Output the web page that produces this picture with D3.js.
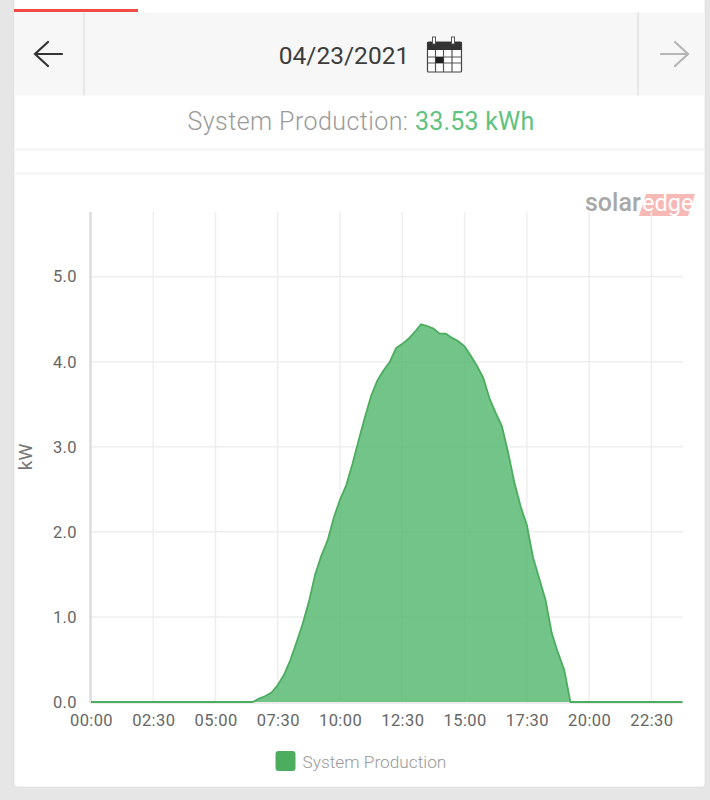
<!DOCTYPE html>
<html><head><meta charset="utf-8">
<script src="https://cdnjs.cloudflare.com/ajax/libs/d3/7.8.5/d3.min.js"></script>
<style>html,body{margin:0;padding:0;background:#e6e6e6;overflow:hidden}svg{display:block}text{font-family:Roboto,sans-serif}</style>
</head><body><svg id="c" width="710" height="800"></svg>
<script>
const title = "System Production: ";
const total = "33.53 kWh";
const dateLabel = "04/23/2021";
const yLabel = "kW";
const seriesName = "System Production";
const xTickLabels = ["00:00","02:30","05:00","07:30","10:00","12:30","15:00","17:30","20:00","22:30"];
const xTickHours = [0,2.5,5,7.5,10,12.5,15,17.5,20,22.5];
const yTicks = [0,1,2,3,4,5];
// 15-minute samples, 06:30 to 19:15
const startHour = 6.5;
const production = [0,0.04,0.07,0.11,0.2,0.32,0.49,0.7,0.92,1.18,1.5,1.72,1.9,2.17,2.38,2.55,2.8,3.08,3.35,3.6,3.78,3.9,4.0,4.16,4.21,4.27,4.35,4.44,4.42,4.39,4.33,4.33,4.28,4.24,4.18,4.07,3.95,3.81,3.57,3.4,3.24,2.93,2.58,2.3,2.08,1.7,1.45,1.2,0.81,0.58,0.38,0];
const dayStart = 0, dayEnd = 23.75;
const pts = [[dayStart,0], ...production.map((v,i)=>[startHour+i*0.25,v]), [dayEnd,0]];

const svg = d3.select("#c");
const x = d3.scaleLinear().domain([0,23.75]).range([91,682.5]);
const y = d3.scaleLinear().domain([0,5.76]).range([702,212]);

// card and header
svg.append("rect").attr("x",14).attr("y",-5).attr("width",691).attr("height",792).attr("rx",3).attr("fill","#fff").attr("stroke","#d6d6d6").attr("stroke-width",0.6);
svg.append("rect").attr("x",14).attr("y",9).attr("width",124).attr("height",3).attr("fill","#ef4b45");
svg.append("rect").attr("x",14).attr("y",12.5).attr("width",691).attr("height",83).attr("fill","#f7f7f7");
[84,638].forEach(d=>svg.append("line").attr("x1",d).attr("x2",d).attr("y1",12.5).attr("y2",95.5).attr("stroke","#e2e2e2").attr("stroke-width",1.5));
[[148,3],[172,3]].forEach(d=>svg.append("rect").attr("x",14).attr("y",d[0]).attr("width",691).attr("height",d[1]).attr("fill","#f7f7f7"));
const arrow=(x0,dir,col)=>svg.append("path").attr("d",`M${x0-14*dir},54 H${x0+13*dir} M${x0-dir},42 L${x0-14*dir},54 L${x0-dir},66`).attr("fill","none").attr("stroke",col).attr("stroke-width",2.2).attr("stroke-linecap","round");
arrow(49,1,"#333");
arrow(674,-1,"#b5b5b5");
svg.append("text").attr("x",344).attr("y",63.5).attr("text-anchor","middle").attr("font-size",24.5).attr("fill","#3c3c3c").text(dateLabel);
// calendar icon
const cal=svg.append("g").attr("transform","translate(427,37)");
cal.append("rect").attr("x",0.5).attr("y",5).attr("width",34).attr("height",30).attr("rx",1).attr("fill","#fff").attr("stroke","#444").attr("stroke-width",1.2);
cal.append("rect").attr("x",0.5).attr("y",5).attr("width",34).attr("height",8).attr("fill","#333");
[7,26].forEach(d=>cal.append("rect").attr("x",d-1.5).attr("y",0).attr("width",3).attr("height",7).attr("fill","#fff").attr("stroke","#555"));
[8.5,16.5,25].forEach(d=>cal.append("line").attr("x1",d).attr("x2",d).attr("y1",13).attr("y2",35).attr("stroke","#555").attr("stroke-width",1.2));
[20,26].forEach(d=>cal.append("line").attr("x1",0.5).attr("x2",34.5).attr("y1",d).attr("y2",d).attr("stroke","#555").attr("stroke-width",1.2));
cal.append("rect").attr("x",8.5).attr("y",20).attr("width",8).attr("height",6).attr("fill","#222");

const t=svg.append("text").attr("x",361).attr("y",130).attr("text-anchor","middle").attr("font-size",25).attr("font-weight",300).attr("letter-spacing",0.42);
t.append("tspan").attr("fill","#9a9a9a").text(title);
t.append("tspan").attr("fill","#5fc27f").attr("font-weight",400).attr("letter-spacing",0.2).text(total);

// logo
svg.append("path").attr("d","M646,194 H695 L688,216 H639 Z").attr("fill","#f7b9b5");
svg.append("text").attr("x",585).attr("y",211).attr("font-size",25).attr("font-weight",500).attr("fill","#a8a8a8").text("solar");
svg.append("text").attr("x",642).attr("y",211).attr("font-size",23.5).attr("font-weight",400).attr("fill","#fff").text("edge");

// grid
const g=svg.append("g").attr("fill","none");
xTickHours.slice(1).forEach(h=>g.append("line").attr("x1",x(h)).attr("x2",x(h)).attr("y1",212).attr("y2",702).attr("stroke","#eeeeee").attr("stroke-width",1.5));
yTicks.slice(1).forEach(v=>g.append("line").attr("x1",91).attr("x2",683).attr("y1",y(v)).attr("y2",y(v)).attr("stroke","#eeeeee").attr("stroke-width",1.5));
g.append("line").attr("x1",90.5).attr("x2",90.5).attr("y1",212).attr("y2",703).attr("stroke","#dcdcdc").attr("stroke-width",2.5);
g.append("line").attr("x1",90).attr("x2",683).attr("y1",703).attr("y2",703).attr("stroke","#e6e6e6").attr("stroke-width",1.5);

// area
const area=d3.area().x(d=>x(d[0])).y0(y(0)).y1(d=>y(d[1]));
const line=d3.line().x(d=>x(d[0])).y(d=>y(d[1]));
svg.append("path").datum(pts).attr("d",area).attr("fill","#4fb56a").attr("fill-opacity",0.8);
svg.append("path").datum(pts).attr("d",line).attr("fill","none").attr("stroke","#4cad5f").attr("stroke-width",1.8);

// axes
const xAxis=d3.axisBottom(x).tickValues(xTickHours).tickFormat((d,i)=>xTickLabels[i]).tickSize(0).tickPadding(0);
const xg=svg.append("g").attr("transform","translate(0,714)").call(xAxis);
const yAxis=d3.axisLeft(y).tickValues(yTicks).tickFormat(d3.format(".1f")).tickSize(0).tickPadding(0);
const yg=svg.append("g").attr("transform","translate(77,0)").call(yAxis);
[xg,yg].forEach(a=>{a.select(".domain").remove();a.selectAll("text").attr("font-family","Roboto,sans-serif").attr("font-size",16.5).attr("letter-spacing",0.4).attr("fill","#666");});
svg.append("text").attr("transform","translate(32,457) rotate(-90)").attr("text-anchor","middle").attr("font-size",19).attr("fill","#777").text(yLabel);

// legend
svg.append("rect").attr("x",275.5).attr("y",751).attr("width",20).attr("height",20).attr("rx",3).attr("fill","#4cad5f");
svg.append("text").attr("x",302.5).attr("y",768).attr("font-size",17.3).attr("font-weight",300).attr("fill","#999").text(seriesName);
</script></body></html>
